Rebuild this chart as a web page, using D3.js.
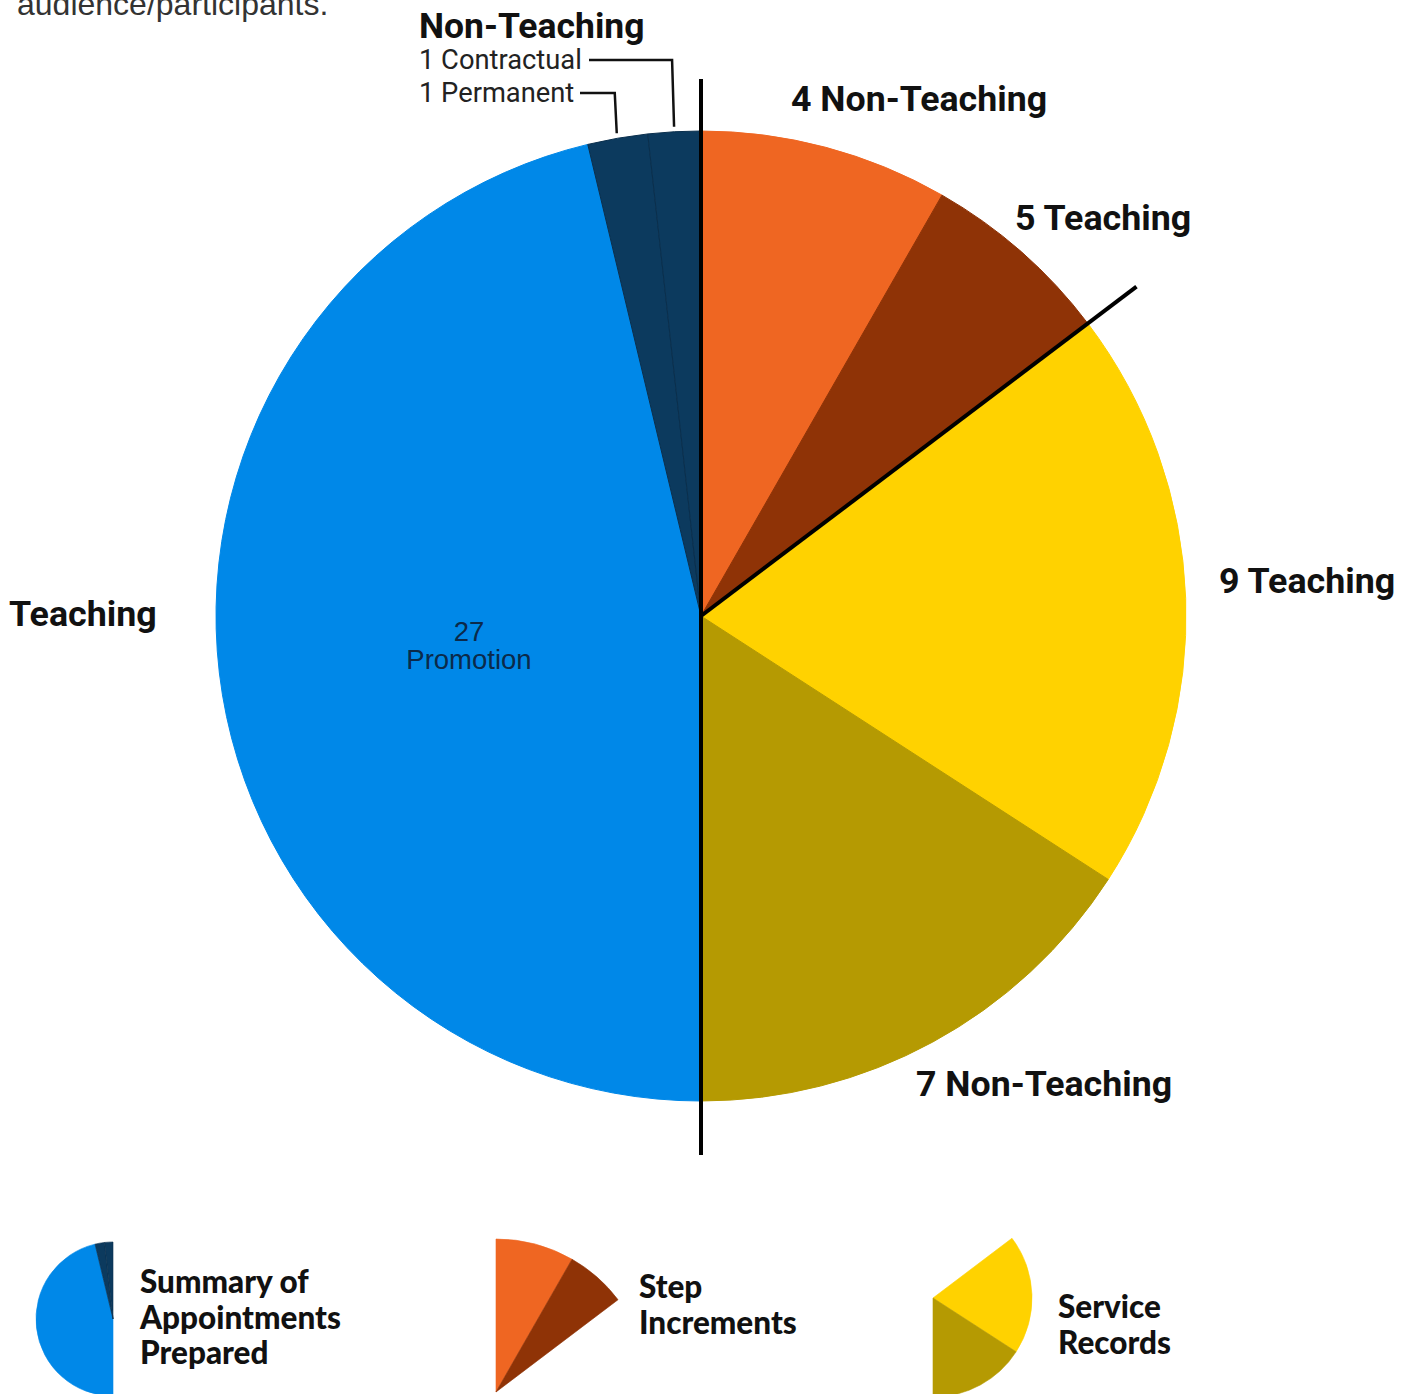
<!DOCTYPE html>
<html><head><meta charset="utf-8">
<script src="https://cdn.jsdelivr.net/npm/d3@7"></script>
<style>
html,body{margin:0;padding:0;background:#fff;}
svg{display:block;}
</style></head>
<body>
<svg id="chart" width="1410" height="1394"></svg>
<script>
// ---- data ----
const sliceNames  = ["Non-Teaching (Step)", "Teaching (Step)", "Teaching (Service)", "Non-Teaching (Service)", "Promotion", "Permanent", "Contractual"];
const sliceCounts = [4, 5, 9, 7, 27, 1, 1];
const sliceGroups = ["step", "step", "service", "service", "summary", "summary", "summary"];
// angular share each wedge occupies in the picture (degrees; the chart is a composite of three pies)
const sliceShare  = [29.8, 23.1, 70.0, 57.1, 166.5, 7.2, 6.3];
const sliceColors = ["#ef6622", "#8f3306", "#ffd200", "#b59a02", "#0088e8", "#0c3a5e", "#0c3a5e"];
const groupKeys   = ["summary", "step", "service"];
const groupTitles = [["Summary of", "Appointments", "Prepared"], ["Step", "Increments"], ["Service", "Records"]];

const svg = d3.select("#chart");
const cx = 701, cy = 616, R = 485;

const pie = d3.pie().sort(null).value(d => d.share).startAngle(0).endAngle(2 * Math.PI);
const data = sliceNames.map((n, i) => ({name: n, count: sliceCounts[i], group: sliceGroups[i], share: sliceShare[i], color: sliceColors[i]}));
const arcs = pie(data);
const arc = d3.arc().innerRadius(0).outerRadius(R);

// top cut-off text (cut off at the top edge in the reference as well)
svg.append("text").attr("x", 17).attr("y", 15)
  .attr("font-family", "Liberation Sans, Arial, sans-serif").attr("font-size", 32).attr("fill", "#333")
  .text("audience/participants.");

const g = svg.append("g").attr("transform", `translate(${cx},${cy})`);
g.selectAll("path.slice").data(arcs).join("path")
  .attr("class", "slice")
  .attr("d", arc)
  .attr("fill", d => d.data.color)
  .attr("stroke", d => d.data.group === "summary" && d.data.name !== "Promotion" ? "#0a2f4d" : d.data.color)
  .attr("stroke-width", 1);

const pt = (a, r) => [Math.sin(a) * r, -Math.cos(a) * r];

// separator lines
const stepEnd = arcs[1].endAngle;
const vTop = pt(0, 537), vBot = pt(Math.PI, 539);
g.append("line").attr("x1", vTop[0]).attr("y1", vTop[1]).attr("x2", vBot[0]).attr("y2", vBot[1])
  .attr("stroke", "#000").attr("stroke-width", 4);
const dEnd = pt(stepEnd, 546);
g.append("line").attr("x1", 0).attr("y1", 0).attr("x2", dEnd[0]).attr("y2", dEnd[1])
  .attr("stroke", "#000").attr("stroke-width", 4);

// leader lines for the two tiny slices
const leaderSpecs = [
  {slice: 6, y: 60 - cy, xEnd: 589 - cx, text: "1 Contractual", ty: 69},
  {slice: 5, y: 93 - cy, xEnd: 580 - cx, text: "1 Permanent", ty: 102}
];
leaderSpecs.forEach(s => {
  const a = (arcs[s.slice].startAngle + arcs[s.slice].endAngle) / 2;
  const p = pt(a, 490);
  g.append("path")
    .attr("d", `M${p[0]},${p[1]} L${p[0] - 2},${s.y} L${s.xEnd},${s.y}`)
    .attr("fill", "none").attr("stroke", "#111").attr("stroke-width", 2.5);
  svg.append("text").attr("x", 419).attr("y", s.ty)
    .attr("font-family", "Roboto, Arial, sans-serif").attr("font-size", 27.3).attr("fill", "#222")
    .text(s.text);
});

const boldFont = "Roboto, Arial, sans-serif";
const labels = [
  {x: 419, y: 38, t: "Non-Teaching", s: 35.5},
  {x: 791, y: 111, t: sliceCounts[0] + " Non-Teaching", s: 35.7},
  {x: 1015, y: 230, t: sliceCounts[1] + " Teaching", s: 35.8},
  {x: 1219, y: 593, t: sliceCounts[2] + " Teaching", s: 35.8},
  {x: 916, y: 1096, t: sliceCounts[3] + " Non-Teaching", s: 35.7},
  {x: 9, y: 626, t: "Teaching", s: 35.8}
];
svg.selectAll("text.lbl").data(labels).join("text")
  .attr("class", "lbl")
  .attr("x", d => d.x).attr("y", d => d.y)
  .attr("font-family", boldFont).attr("font-weight", 700).attr("font-size", d => d.s)
  .attr("fill", "#111").text(d => d.t);

// inside label
const inner = svg.append("text").attr("text-anchor", "middle")
  .attr("font-family", "Liberation Sans, Arial, sans-serif").attr("font-size", 27.5).attr("fill", "#0b2a4a");
inner.append("tspan").attr("x", 469).attr("y", 641).text(sliceCounts[4]);
inner.append("tspan").attr("x", 469).attr("y", 669).text("Promotion");

// ---- legend icons ----
const legend = [
  {key: "summary", cx: 113, cy: 1319, r: 77, tx: 140, ty: 1293},
  {key: "step", cx: 496, cy: 1392, r: 153, tx: 639, ty: 1298},
  {key: "service", cx: 933, cy: 1298, r: 99, tx: 1058, ty: 1318}
];
legend.forEach((L, i) => {
  const lg = svg.append("g").attr("transform", `translate(${L.cx},${L.cy})`);
  const a2 = d3.arc().innerRadius(0).outerRadius(L.r);
  lg.selectAll("path").data(arcs.filter(d => d.data.group === L.key)).join("path")
    .attr("d", a2).attr("fill", d => d.data.color)
    .attr("stroke", d => d.data.group === "summary" && d.data.name !== "Promotion" ? "#0a2f4d" : d.data.color)
    .attr("stroke-width", 0.6);
  const t = svg.append("text").attr("font-family", "Lato, sans-serif").attr("font-weight", 900)
    .attr("font-size", 31.5).attr("fill", "#111");
  groupTitles[groupKeys.indexOf(L.key)].forEach((line, j) => {
    t.append("tspan").attr("x", L.tx).attr("y", L.ty + j * 35.5).text(line);
  });
});
</script>
</body></html>
